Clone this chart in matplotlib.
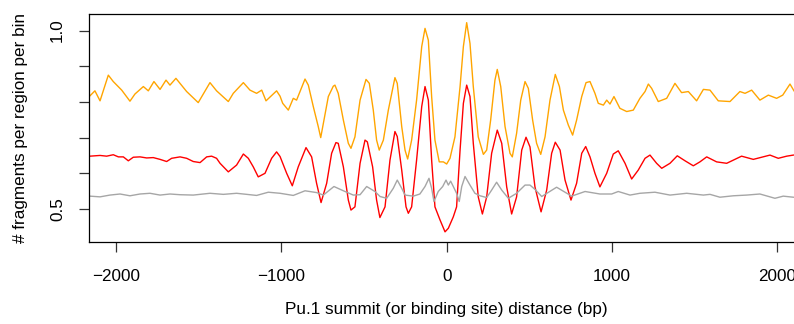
import matplotlib
matplotlib.use("Agg")
import matplotlib.pyplot as plt

plt.rcParams['font.family'] = ['Liberation Sans', 'DejaVu Sans']

# ---- data ----
orange_x = [-2158, -2128, -2097, -2047, -2017, -1966, -1916, -1886, -1835, -1805,
            -1771, -1734, -1698, -1674, -1638, -1573, -1503, -1432, -1392, -1321,
            -1291, -1230, -1190, -1150, -1119, -1093, -1029,
            -1008, -992, -958, -928, -908, -887, -857, -837, -807, -777, -762, -746,
            -716, -686, -676, -656, -625, -595, -579, -555, -524, -488, -468, -444,
            -424, -408, -383, -353, -313, -299, -272, -252, -236, -212, -182, -151,
            -131, -111, -91, -71, -45, -20, 0, 20, 50, 81, 101, 121, 141, 161, 191,
            222, 242, 266, 292, 306, 327, 353, 383, 397, 423, 448, 474, 494, 520,
            544, 569, 595, 625, 657, 682, 706, 736, 762, 786, 817, 843, 867, 897,
            917, 948, 968, 988, 1012, 1048, 1089, 1129, 1169, 1200, 1220, 1240,
            1280, 1331, 1381, 1421, 1462, 1512, 1553, 1593, 1643, 1714, 1774, 1805,
            1845, 1895, 1946, 1996, 2033, 2077, 2101]
orange_y = [0.817, 0.831, 0.803, 0.875, 0.857, 0.833, 0.802, 0.822, 0.843, 0.831,
            0.857, 0.835, 0.861, 0.847, 0.866, 0.829, 0.798, 0.854, 0.831, 0.801,
            0.824, 0.854, 0.833, 0.824, 0.833, 0.803, 0.831,
            0.816, 0.796, 0.777, 0.810, 0.805, 0.829, 0.864, 0.847, 0.787, 0.731,
            0.700, 0.740, 0.815, 0.844, 0.847, 0.824, 0.749, 0.684, 0.670, 0.702,
            0.805, 0.863, 0.852, 0.777, 0.693, 0.665, 0.693, 0.777, 0.868, 0.852,
            0.731, 0.665, 0.640, 0.693, 0.805, 0.955, 1.006, 0.973, 0.815, 0.693,
            0.632, 0.632, 0.626, 0.642, 0.702, 0.843, 0.955, 1.022, 0.964, 0.843,
            0.702, 0.653, 0.665, 0.749, 0.861, 0.891, 0.843, 0.731, 0.656, 0.646,
            0.712, 0.805, 0.857, 0.838, 0.749, 0.684, 0.653, 0.702, 0.805, 0.877,
            0.843, 0.777, 0.735, 0.707, 0.749, 0.815, 0.854, 0.857, 0.824,
            0.796, 0.791, 0.805, 0.794, 0.815, 0.782, 0.773, 0.777, 0.810, 0.829,
            0.850, 0.838, 0.801, 0.810, 0.852, 0.826, 0.829, 0.803, 0.835, 0.833,
            0.803, 0.801, 0.829, 0.824, 0.833, 0.805, 0.819, 0.810, 0.819, 0.850,
            0.831]

red_x = [-2158, -2097, -2057, -2017, -1986, -1956, -1926, -1896, -1855, -1815,
         -1775, -1734, -1694, -1664, -1613, -1573, -1533, -1492, -1452, -1422,
         -1392, -1371, -1321, -1271, -1230, -1200, -1170, -1140, -1099, -1059,
         -1029, -1008, -968, -934, -898, -851, -817, -787, -760, -726, -696, -670,
         -656, -625, -595, -579, -555, -524, -494, -480, -448, -424, -404, -373,
         -343, -313, -299, -272, -246, -232, -212, -182, -151, -131, -111, -91,
         -71, -40, -10, 10, 40, 60, 81, 101, 121, 141, 161, 191, 216, 242, 272,
         306, 333, 363, 393, 423, 454, 480, 504, 534, 571, 605, 635, 657, 686,
         716, 752, 786, 817, 841, 867, 897, 927, 968, 1008, 1038, 1079, 1119,
         1159, 1200, 1230, 1270, 1301, 1351, 1395, 1442, 1492, 1532, 1573, 1633,
         1694, 1734, 1784, 1855, 1915, 1956, 2006, 2057, 2097]
red_y = [0.648, 0.650, 0.648, 0.652, 0.646, 0.646, 0.635, 0.645, 0.646, 0.643,
         0.644, 0.639, 0.633, 0.642, 0.646, 0.642, 0.633, 0.630, 0.646, 0.648,
         0.642, 0.628, 0.604, 0.623, 0.654, 0.642, 0.618, 0.590, 0.600, 0.642,
         0.660, 0.647, 0.600, 0.565, 0.618, 0.672, 0.646, 0.572, 0.518, 0.572,
         0.656, 0.686, 0.684, 0.618, 0.525, 0.497, 0.506, 0.628, 0.693, 0.688,
         0.618, 0.525, 0.476, 0.506, 0.637, 0.717, 0.703, 0.609, 0.506, 0.488,
         0.506, 0.637, 0.787, 0.843, 0.805, 0.637, 0.506, 0.469, 0.436, 0.446,
         0.478, 0.506, 0.665, 0.796, 0.847, 0.815, 0.684, 0.534, 0.486, 0.534,
         0.656, 0.721, 0.684, 0.562, 0.486, 0.534, 0.665, 0.701, 0.674, 0.562,
         0.492, 0.553, 0.656, 0.687, 0.665, 0.581, 0.525, 0.572, 0.656, 0.675,
         0.646, 0.600, 0.562, 0.600, 0.654, 0.663, 0.628, 0.584, 0.609, 0.642,
         0.651, 0.628, 0.614, 0.628, 0.649, 0.635, 0.621, 0.632, 0.646, 0.632,
         0.628, 0.637, 0.648, 0.639, 0.646, 0.651, 0.642, 0.648, 0.651]

gray_x = [-2158, -2097, -2037, -1976, -1916, -1855, -1795, -1734, -1674, -1613,
          -1533, -1432, -1351, -1271, -1210, -1150, -1079, -1008, -928, -857,
          -787, -746, -682, -625, -565, -524, -484, -434, -403, -363, -323, -299,
          -272, -252, -202, -162, -131, -107, -91, -77, -51, -24, -4, 10, 24, 40,
          60, 76, 91, 111, 141, 171, 202, 242, 272, 302, 333, 373, 423, 474, 504,
          534, 575, 665, 756, 837, 927, 998, 1038, 1109, 1169, 1260, 1351, 1452,
          1553, 1593, 1653, 1734, 1815, 1895, 1986, 2036, 2097]
gray_y = [0.536, 0.534, 0.539, 0.542, 0.537, 0.542, 0.544, 0.539, 0.542, 0.540,
          0.539, 0.544, 0.541, 0.544, 0.541, 0.538, 0.547, 0.544, 0.538, 0.551,
          0.546, 0.539, 0.563, 0.551, 0.539, 0.540, 0.563, 0.549, 0.535, 0.530,
          0.558, 0.581, 0.558, 0.539, 0.536, 0.542, 0.563, 0.586, 0.558, 0.521,
          0.549, 0.563, 0.581, 0.567, 0.578, 0.563, 0.544, 0.521, 0.563, 0.591,
          0.567, 0.544, 0.537, 0.532, 0.553, 0.575, 0.553, 0.530, 0.544, 0.567,
          0.567, 0.555, 0.535, 0.561, 0.536, 0.549, 0.542, 0.542, 0.549, 0.539,
          0.544, 0.547, 0.539, 0.544, 0.539, 0.541, 0.533, 0.537, 0.539, 0.542,
          0.530, 0.536, 0.533]

x_ticks = [-2000, -1000, 0, 1000, 2000]
x_tick_labels = ["\u22122000", "\u22121000", "0", "1000", "2000"]
y_ticks = [0.5, 0.6, 0.7, 0.8, 0.9, 1.0]
y_tick_labels = ["0.5", "", "", "", "", "1.0"]
x_label = "Pu.1 summit (or binding site) distance (bp)"
y_label = "# fragments per region per bin"

# ---- figure ----
W, H = 794, 324
fig = plt.figure(figsize=(W / 100, H / 100), dpi=100)
left, top, bottom = 89.3, 14.3, 242.3
xmin, xmax = -2162, 2162
px_per_unit = 165.3 / 1000
ax_w = (xmax - xmin) * px_per_unit
ax = fig.add_axes([left / W, (H - bottom) / H, ax_w / W, (bottom - top) / H])

ax.plot(orange_x, orange_y, color="#FFA500", lw=1.0)
ax.plot(red_x, red_y, color="#FF0000", lw=1.0)
ax.plot(gray_x, gray_y, color="#A6A6A6", lw=1.0)

ax.set_xlim(xmin, xmax)
ax.set_ylim(0.4067, 1.0454)
ax.set_xticks(x_ticks)
ax.set_xticklabels(x_tick_labels)
ax.set_yticks(y_ticks)
ax.set_yticklabels(y_tick_labels, rotation=90, va="center")

fs = 12.3
ax.tick_params(axis="both", direction="out", length=7.5, width=0.9,
               color="#333333", labelsize=fs)
ax.tick_params(axis="x", pad=11.8)
ax.tick_params(axis="y", pad=10)
for s in ax.spines.values():
    s.set_linewidth(0.9)
    s.set_color("black")

ax.set_xlabel(x_label, fontsize=fs, labelpad=13)
ax.set_ylabel(y_label, fontsize=fs)
ax.yaxis.set_label_coords(-(left - 28) / ax_w, 0.5)

fig.savefig("out.png", dpi=100)
